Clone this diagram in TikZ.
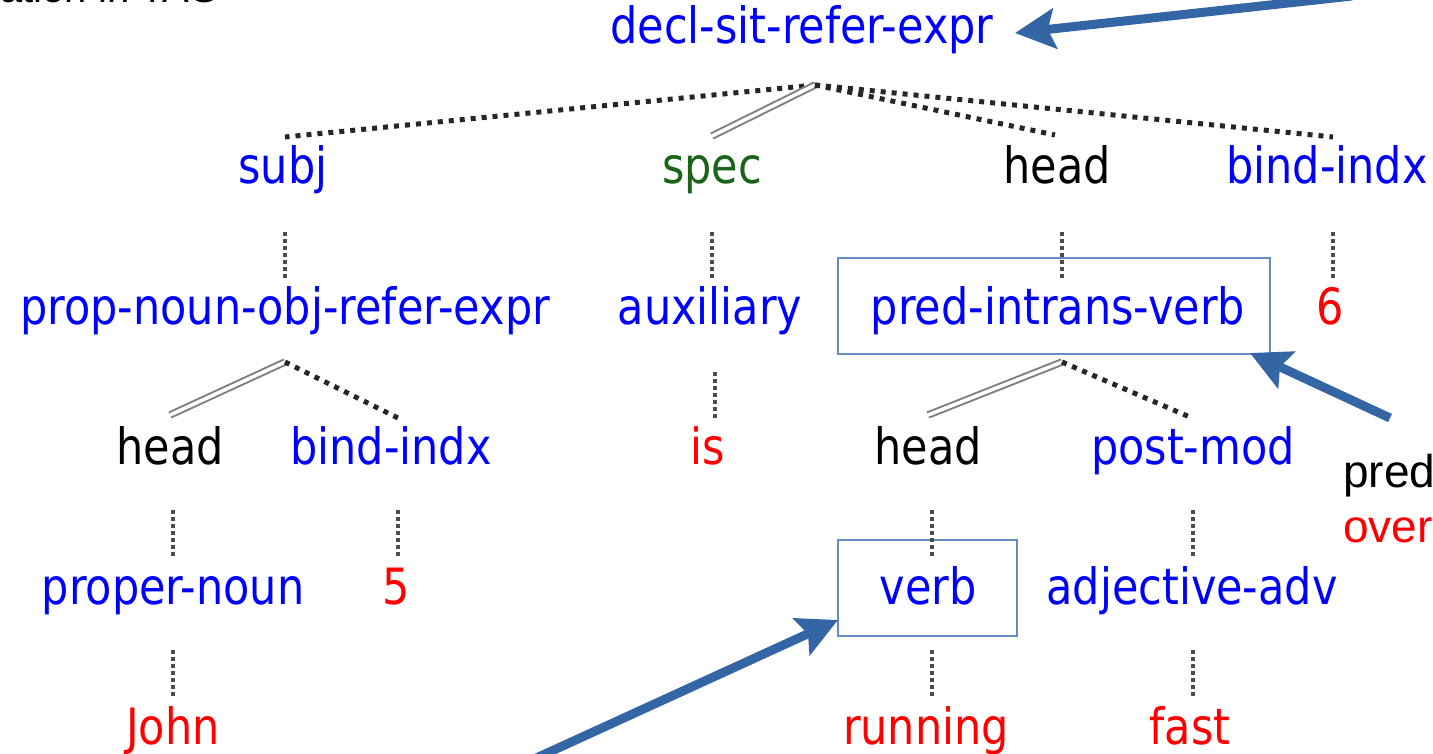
\documentclass[tikz,border=0pt]{standalone}
\usepackage{fontspec}
\setmainfont{Liberation Sans}
\newfontfamily\treefont{DejaVu Sans}[FakeStretch=0.86]
\usetikzlibrary{arrows.meta}
\definecolor{typeblue}{RGB}{0,0,255}
\definecolor{featgreen}{RGB}{25,100,25}
\definecolor{valred}{RGB}{255,0,0}
\definecolor{callout}{RGB}{52,101,164}
\definecolor{boxline}{RGB}{100,140,195}

\begin{document}
\begin{tikzpicture}[x=1pt,y=-1pt,
  lbl/.style={anchor=base, inner sep=0pt, font=\treefont\fontsize{50}{60}\selectfont},
  typ/.style={lbl, text=typeblue},
  feat/.style={lbl, text=black},
  val/.style={lbl, text=valred},
  dotlink/.style={line width=5pt, dash pattern=on 5pt off 6pt, draw=black!85},
  vdotlink/.style={line width=4pt, dash pattern=on 4pt off 3pt, draw=black!70},
  dbllink/.style={draw=black!50, line width=2pt, double=white, double distance=3.5pt},
  hilite/.style={draw=boxline, line width=1.5pt, inner sep=0pt},
  callarrow/.style={draw=callout, line width=9pt,
    -{Stealth[length=40pt,width=40pt,inset=7pt]}},
  note/.style={anchor=base west, inner sep=0pt, font=\fontsize{46}{55}\selectfont},
]
\useasboundingbox (0,0) rectangle (1433,754);
\clip (0,0) rectangle (1433,754);

% heading, running off the top edge
\node[note, anchor=base east, font=\fontsize{40}{48}\selectfont] (title) at (220,3) {ation in TAG};

% highlight boxes
\node[hilite, minimum width=432pt, minimum height=96pt] (predbox) at (1054,306) {};
\node[hilite, minimum width=179pt, minimum height=96pt] (verbbox) at (927.5,588) {};

% row 1
\node[typ] (root) at (802,44) {decl-sit-refer-expr};
% row 2
\node[typ] (subj) at (283,184) {subj};
\node[lbl, text=featgreen] (spec) at (712,184) {spec};
\node[feat] (head1) at (1057,184) {head};
\node[typ] (bind1) at (1327,184) {bind-indx};
% row 3
\node[typ] (pnoun) at (285,324) {prop-noun-obj-refer-expr};
\node[typ] (aux) at (710,324) {auxiliary};
\node[typ] (pred) at (1058,324) {pred-intrans-verb};
\node[val] (six) at (1330,324) {6};
% row 4
\node[feat] (head2) at (170,464) {head};
\node[typ] (bind2) at (391,464) {bind-indx};
\node[val] (is) at (708,464) {is};
\node[feat] (head3) at (928,464) {head};
\node[typ] (postmod) at (1193,464) {post-mod};
% row 5
\node[typ] (propn) at (173,604) {proper-noun};
\node[val] (five) at (396,604) {5};
\node[typ] (verb) at (928,604) {verb};
\node[typ] (adjadv) at (1192,604) {adjective-adv};
% row 6
\node[val] (john) at (173,744) {John};
\node[val] (running) at (926,744) {running};
\node[val] (fast) at (1190,744) {fast};

% branching points and connector ends
\coordinate (rootJ) at (815,85);
\coordinate (subjT) at (285,137);
\coordinate (specT) at (712,136);
\coordinate (head1T) at (1055,135);
\coordinate (bind1T) at (1333,137);
\coordinate (pnounJ) at (285,362);
\coordinate (head2T) at (170,415);
\coordinate (bind2T) at (398,418);
\coordinate (predJ) at (1062,362);
\coordinate (head3T) at (928,415);
\coordinate (postmodT) at (1192,418);

\draw[dotlink] (rootJ) -- (subjT);
\draw[dbllink] (rootJ) -- (specT);
\draw[dotlink] (rootJ) -- (head1T);
\draw[dotlink] (rootJ) -- (bind1T);
\draw[dbllink] (pnounJ) -- (head2T);
\draw[dotlink] (pnounJ) -- (bind2T);
\draw[dbllink] (predJ) -- (head3T);
\draw[dotlink] (predJ) -- (postmodT);

% vertical feature-value links
\foreach \n/\x/\y in {a/285/232, b/712/232, c/1062/232, d/1333/232,
                      e/715/372,
                      f/173/510, g/398/510, h/932/510, i/1193/510,
                      j/173/650, k/932/650, l/1193/650} {
  \coordinate (v\n top) at (\x,\y);
  \coordinate (v\n bot) at (\x,\y+46);
  \draw[vdotlink] (v\n top) -- (v\n bot);
}

% side notes
\node[note] (notepred) at (1343,487) {pred};
\node[note, text=valred] (noteover) at (1343,542) {over};

% callout arrows
\coordinate (a1from) at (1352,-4);
\coordinate (a1to) at (1015,33);
\coordinate (a2from) at (1390,418);
\coordinate (a2to) at (1250,353);
\coordinate (a3from) at (532,760);
\coordinate (a3to) at (838,620);
\draw[callarrow] (a1from) -- (a1to);
\draw[callarrow] (a2from) -- (a2to);
\draw[callarrow] (a3from) -- (a3to);
\end{tikzpicture}
\end{document}
